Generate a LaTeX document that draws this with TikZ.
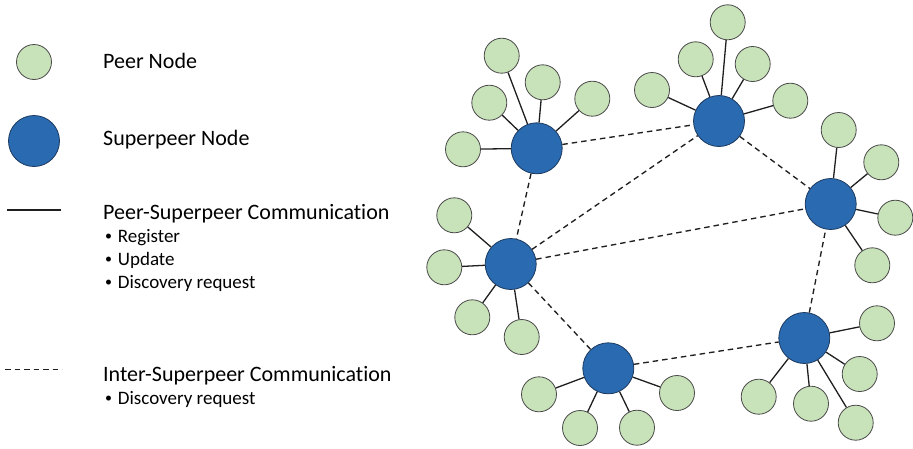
\documentclass[tikz,border=0pt]{standalone}
\usepackage{fontspec}
\setmainfont{Carlito}[Ligatures={NoCommon}]
\definecolor{peerfill}{HTML}{C8E2B9}
\definecolor{peerline}{HTML}{4A4A4A}
\definecolor{superfill}{HTML}{2A6AB0}
\definecolor{superline}{HTML}{1C3A60}
\newcommand{\bulletmark}{\makebox[12.7pt][l]{\raisebox{1.8pt}{\fontsize{14}{14}\selectfont •}}}
\begin{document}
\begin{tikzpicture}[x=1pt,y=-1pt,
  peer/.style={circle,draw=peerline,fill=peerfill,line width=0.8pt,minimum size=35pt,inner sep=0pt},
  super/.style={circle,draw=superline,fill=superfill,line width=0.8pt,minimum size=51pt,inner sep=0pt},
  link/.style={line width=1.3pt,draw=black!88},
  interlink/.style={line width=1.35pt,draw=black!88,dash pattern=on 5.5pt off 4pt},
  title/.style={anchor=base west,inner sep=0pt,font=\fontsize{22}{26}\selectfont},
  item/.style={anchor=base west,inner sep=0pt,font=\fontsize{19}{23}\selectfont}]
\useasboundingbox (0,0) rectangle (913,448);

% ---------- legend ----------
\node[peer]  (lgpeer)  at (34,62) {};
\node[super] (lgsuper) at (34,141) {};
\coordinate (lgsolidA) at (7,210);
\coordinate (lgsolidB) at (61,210);
\draw[link,line width=1.1pt] (lgsolidA) -- (lgsolidB);
\coordinate (lgdashA) at (5,369);
\coordinate (lgdashB) at (62,369);
\draw[interlink,line width=1pt] (lgdashA) -- (lgdashB);

\node[title] (tpeer)  at (103,68.5)  {Peer Node};
\node[title] (tsuper) at (103,145)   {Superpeer Node};
\node[title] (tps)    at (103,219)   {Peer-Superpeer Communication};
\node[item]  (ireg)   at (105,242.5) {\bulletmark Register};
\node[item]  (iupd)   at (105,265.5) {\bulletmark Update};
\node[item]  (idisc)  at (105,288.5) {\bulletmark Discovery request};
\node[title] (tis)    at (103,381.5) {Inter-Superpeer Communication};
\node[item]  (idisc2) at (105,404.5) {\bulletmark Discovery request};

% ---------- superpeers ----------
\node[super] (s1) at (536.7,148.3) {};
\node[super] (s2) at (719,121) {};
\node[super] (s3) at (830.7,204) {};
\node[super] (s4) at (510.7,264) {};
\node[super] (s5) at (608.3,368.3) {};
\node[super] (s6) at (804.3,338) {};

% ---------- peers ----------
\node[peer] (p1a) at (501.7,55.7) {};
\node[peer] (p1b) at (542.7,82.3) {};
\node[peer] (p1c) at (489.3,102.7) {};
\node[peer] (p1d) at (592.3,98.7) {};
\node[peer] (p1e) at (463,149.3) {};

\node[peer] (p2a) at (727.7,22.3) {};
\node[peer] (p2b) at (695.7,59.3) {};
\node[peer] (p2c) at (752.7,64) {};
\node[peer] (p2d) at (790.3,100.7) {};
\node[peer] (p2e) at (652,90) {};

\node[peer] (p3a) at (838.7,130) {};
\node[peer] (p3b) at (881.3,162.3) {};
\node[peer] (p3c) at (895.3,217.7) {};
\node[peer] (p3d) at (872.3,265.3) {};

\node[peer] (p4a) at (454.3,215.3) {};
\node[peer] (p4b) at (444.3,267.3) {};
\node[peer] (p4c) at (472.3,317.3) {};
\node[peer] (p4d) at (521.7,337) {};

\node[peer] (p5a) at (539,394.3) {};
\node[peer] (p5b) at (580,428) {};
\node[peer] (p5c) at (637,427.7) {};
\node[peer] (p5d) at (677,393) {};

\node[peer] (p6a) at (877,323.3) {};
\node[peer] (p6b) at (859.7,374) {};
\node[peer] (p6c) at (758.7,396.7) {};
\node[peer] (p6d) at (811,403.7) {};
\node[peer] (p6e) at (855.7,422.7) {};

% ---------- peer-superpeer links ----------
\foreach \s/\p in {s1/p1a,s1/p1b,s1/p1c,s1/p1d,s1/p1e,
                   s2/p2a,s2/p2b,s2/p2c,s2/p2d,s2/p2e,
                   s3/p3a,s3/p3b,s3/p3c,s3/p3d,
                   s4/p4a,s4/p4b,s4/p4c,s4/p4d,
                   s5/p5a,s5/p5b,s5/p5c,s5/p5d,
                   s6/p6a,s6/p6b,s6/p6c,s6/p6d,s6/p6e}
  \draw[link] (\s) -- (\p);

% ---------- inter-superpeer links ----------
\foreach \a/\b in {s1/s2,s1/s4,s4/s2,s2/s3,s4/s3,s4/s5,s5/s6,s6/s3}
  \draw[interlink] (\a) -- (\b);
\end{tikzpicture}
\end{document}
